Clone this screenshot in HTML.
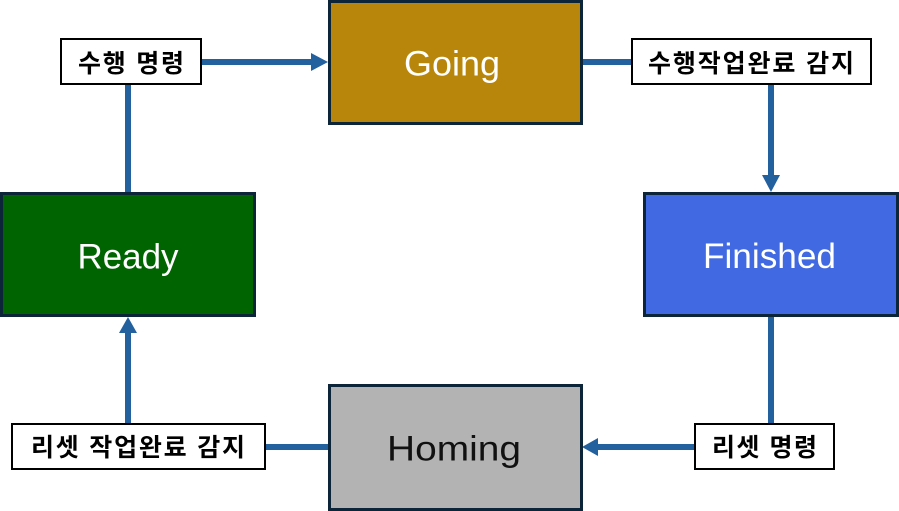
<!DOCTYPE html>
<html>
<head>
<meta charset="utf-8">
<style>
  html, body { margin: 0; padding: 0; background: #ffffff; }
  body { width: 899px; height: 511px; overflow: hidden; }
  svg { display: block; }
  .state { font-family: "Liberation Sans", "DejaVu Sans", sans-serif; font-size: 35px; }
  .lbl { font-family: "Liberation Sans", "Noto Sans CJK KR", "NanumGothic", sans-serif; font-size: 25px; font-weight: bold; fill: #000; }
</style>
</head>
<body>
<svg width="899" height="511" viewBox="0 0 899 511" xmlns="http://www.w3.org/2000/svg">
  <rect x="0" y="0" width="899" height="511" fill="#ffffff"/>

  <!-- connectors -->
  <g stroke="#23609E" stroke-width="6" fill="none">
    <line x1="202" y1="62" x2="312" y2="62"/>
    <line x1="128" y1="85" x2="128" y2="193"/>
    <line x1="582" y1="62" x2="632" y2="62"/>
    <line x1="771" y1="85" x2="771" y2="176"/>
    <line x1="771" y1="316" x2="771" y2="424"/>
    <line x1="694" y1="447" x2="597" y2="447"/>
    <line x1="266" y1="447" x2="329" y2="447"/>
    <line x1="128" y1="423" x2="128" y2="332"/>
  </g>
  <g fill="#23609E">
    <polygon points="311,53 328,62 311,71"/>
    <polygon points="762,175 771,192 780,175"/>
    <polygon points="598,438 582,447 598,456"/>
    <polygon points="119,333 128,317 137,333"/>
  </g>

  <!-- state boxes -->
  <rect x="329.5" y="1.5" width="252" height="122" fill="#B8860B" stroke="#0D2538" stroke-width="3"/>
  <rect x="1.5" y="193.5" width="253" height="122" fill="#006400" stroke="#0D2538" stroke-width="3"/>
  <rect x="644.5" y="193.5" width="253" height="122" fill="#4169E1" stroke="#0D2538" stroke-width="3"/>
  <rect x="329.5" y="385.5" width="252" height="124" fill="#B3B3B3" stroke="#0D2538" stroke-width="3"/>

  <text class="state" x="452" y="75.5" text-anchor="middle" fill="#ffffff" textLength="96" lengthAdjust="spacingAndGlyphs">Going</text>
  <text class="state" x="128" y="268.5" text-anchor="middle" fill="#ffffff" textLength="101" lengthAdjust="spacingAndGlyphs">Ready</text>
  <text class="state" x="769.5" y="268" text-anchor="middle" fill="#ffffff" textLength="133" lengthAdjust="spacingAndGlyphs">Finished</text>
  <text class="state" x="454" y="460.5" text-anchor="middle" fill="#111111" textLength="134" lengthAdjust="spacingAndGlyphs">Homing</text>

  <!-- labels -->
  <rect x="61" y="39" width="140" height="45" fill="#ffffff" stroke="#000000" stroke-width="2"/>
  <rect x="632" y="39" width="239" height="45" fill="#ffffff" stroke="#000000" stroke-width="2"/>
  <rect x="12" y="424" width="253" height="45" fill="#ffffff" stroke="#000000" stroke-width="2"/>
  <rect x="695" y="424" width="139" height="45" fill="#ffffff" stroke="#000000" stroke-width="2"/>

  <text class="lbl" x="78" y="72" textLength="106" lengthAdjust="spacing">수행 명령</text>
  <text class="lbl" x="648" y="72" textLength="206" lengthAdjust="spacing">수행작업완료 감지</text>
  <text class="lbl" x="31" y="456" textLength="214" lengthAdjust="spacing">리셋 작업완료 감지</text>
  <text class="lbl" x="712" y="456" textLength="105" lengthAdjust="spacing">리셋 명령</text>
</svg>
</body>
</html>
